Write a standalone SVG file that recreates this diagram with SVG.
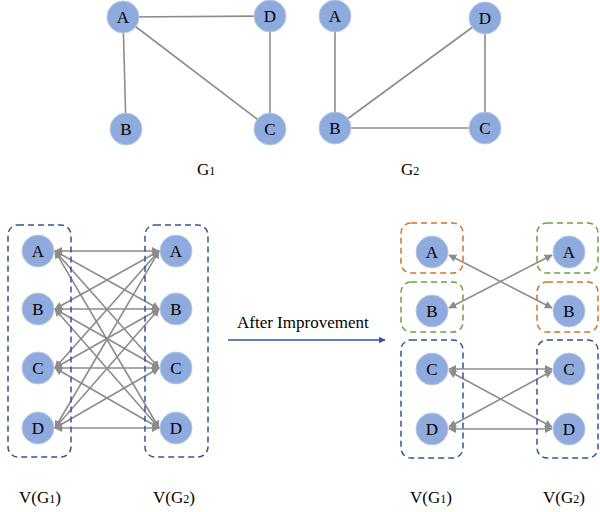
<svg xmlns="http://www.w3.org/2000/svg" width="600" height="512" viewBox="0 0 600 512">
<style>
.n{fill:#8FAADC;stroke:#B9C8E4;stroke-width:1}
.t{font-family:"Liberation Serif","Times New Roman",serif;font-size:17px;fill:#000;text-anchor:middle}
.lbl{font-family:"Liberation Serif","Times New Roman",serif;font-size:17px;fill:#000}
.e{stroke:#8C8C8C;stroke-width:1.6;fill:none}
.a{stroke:#8C8C8C;stroke-width:1.6;fill:none;marker-start:url(#ah);marker-end:url(#ah)}
.bx{fill:none;stroke-width:1.5;stroke-dasharray:6 4}
.blue{stroke:#2F5597}
.orange{stroke:#D2732B}
.green{stroke:#6AA13F}
</style>
<defs>
<marker id="ah" viewBox="0 0 10 10" refX="9" refY="5" markerWidth="5" markerHeight="5" orient="auto-start-reverse" markerUnits="strokeWidth">
<path d="M0,0 L10,5 L0,10 z" fill="#8C8C8C"/>
</marker>
<marker id="bh" viewBox="0 0 10 10" refX="9" refY="5" markerWidth="5" markerHeight="5" orient="auto" markerUnits="strokeWidth">
<path d="M0,0 L10,5 L0,10 z" fill="#2F5597"/>
</marker>
</defs>
<g id="connectors">
<line class="e" x1="123" y1="17" x2="270" y2="16"/>
<line class="e" x1="123" y1="17" x2="126" y2="129"/>
<line class="e" x1="123" y1="17" x2="270" y2="129"/>
<line class="e" x1="270" y1="16" x2="270" y2="129"/>
<line class="e" x1="335" y1="16" x2="335" y2="128"/>
<line class="e" x1="335" y1="128" x2="485" y2="18"/>
<line class="e" x1="335" y1="128" x2="485" y2="128"/>
<line class="e" x1="485" y1="18" x2="485" y2="128"/>
<g id="bipartite">
<line class="a" x1="55" y1="251" x2="159" y2="251"/>
<line class="a" x1="55" y1="251" x2="159" y2="309"/>
<line class="a" x1="55" y1="251" x2="159" y2="368"/>
<line class="a" x1="55" y1="251" x2="159" y2="428"/>
<line class="a" x1="55" y1="309" x2="159" y2="251"/>
<line class="a" x1="55" y1="309" x2="159" y2="309"/>
<line class="a" x1="55" y1="309" x2="159" y2="368"/>
<line class="a" x1="55" y1="309" x2="159" y2="428"/>
<line class="a" x1="55" y1="368" x2="159" y2="251"/>
<line class="a" x1="55" y1="368" x2="159" y2="309"/>
<line class="a" x1="55" y1="368" x2="159" y2="368"/>
<line class="a" x1="55" y1="368" x2="159" y2="428"/>
<line class="a" x1="55" y1="428" x2="159" y2="251"/>
<line class="a" x1="55" y1="428" x2="159" y2="309"/>
<line class="a" x1="55" y1="428" x2="159" y2="368"/>
<line class="a" x1="55" y1="428" x2="159" y2="428"/>
</g>
<g id="improved">
<line class="a" x1="449" y1="255" x2="552" y2="308"/>
<line class="a" x1="449" y1="308" x2="552" y2="255"/>
<line class="a" x1="449" y1="369" x2="552" y2="369"/>
<line class="a" x1="449" y1="429" x2="552" y2="429"/>
<line class="a" x1="449" y1="371" x2="552" y2="427"/>
<line class="a" x1="449" y1="427" x2="552" y2="371"/>
</g>
<line id="improve-arrow" x1="228" y1="340" x2="385" y2="340" stroke="#2F5597" stroke-width="1.3" marker-end="url(#bh)"/>
</g>
<g id="G1">
<g id="g1-A"><circle class="n" cx="123" cy="17" r="16"/><text class="t" x="123" y="23">A</text></g>
<g id="g1-D"><circle class="n" cx="270" cy="16" r="16"/><text class="t" x="270" y="22">D</text></g>
<g id="g1-B"><circle class="n" cx="126" cy="129" r="16"/><text class="t" x="126" y="135">B</text></g>
<g id="g1-C"><circle class="n" cx="270" cy="129" r="16"/><text class="t" x="270" y="135">C</text></g>
<text class="lbl" x="197" y="175">G<tspan font-size="12">1</tspan></text>
</g>
<g id="G2">
<g id="g2-A"><circle class="n" cx="335" cy="16" r="16"/><text class="t" x="335" y="22">A</text></g>
<g id="g2-D"><circle class="n" cx="485" cy="18" r="16"/><text class="t" x="485" y="24">D</text></g>
<g id="g2-B"><circle class="n" cx="335" cy="128" r="16"/><text class="t" x="335" y="134">B</text></g>
<g id="g2-C"><circle class="n" cx="485" cy="128" r="16"/><text class="t" x="485" y="134">C</text></g>
<text class="lbl" x="401" y="175">G<tspan font-size="12">2</tspan></text>
</g>
<g id="before">
<rect class="bx blue" x="8" y="225" width="63" height="232" rx="10"/>
<rect class="bx blue" x="145" y="225" width="63" height="232" rx="10"/>
<g id="b-L-A"><circle class="n" cx="38" cy="251" r="16"/><text class="t" x="38" y="257">A</text></g>
<g id="b-L-B"><circle class="n" cx="38" cy="309" r="16"/><text class="t" x="38" y="315">B</text></g>
<g id="b-L-C"><circle class="n" cx="38" cy="368" r="16"/><text class="t" x="38" y="374">C</text></g>
<g id="b-L-D"><circle class="n" cx="38" cy="428" r="16"/><text class="t" x="38" y="434">D</text></g>
<g id="b-R-A"><circle class="n" cx="176" cy="251" r="16"/><text class="t" x="176" y="257">A</text></g>
<g id="b-R-B"><circle class="n" cx="176" cy="309" r="16"/><text class="t" x="176" y="315">B</text></g>
<g id="b-R-C"><circle class="n" cx="176" cy="368" r="16"/><text class="t" x="176" y="374">C</text></g>
<g id="b-R-D"><circle class="n" cx="176" cy="428" r="16"/><text class="t" x="176" y="434">D</text></g>
<text class="lbl" x="19" y="503">V(G<tspan font-size="12">1</tspan>)</text>
<text class="lbl" x="153" y="503">V(G<tspan font-size="12">2</tspan>)</text>
</g>
<text class="lbl" x="237" y="328" font-size="16">After Improvement</text>
<g id="after">
<rect class="bx orange" x="401" y="223" width="62" height="50" rx="10"/>
<rect class="bx green" x="401" y="282" width="62" height="50" rx="10"/>
<rect class="bx blue" x="401" y="340" width="62" height="118" rx="10"/>
<rect class="bx green" x="537" y="223" width="61" height="50" rx="10"/>
<rect class="bx orange" x="537" y="282" width="61" height="50" rx="10"/>
<rect class="bx blue" x="537" y="340" width="61" height="118" rx="10"/>
<g id="a-L-A"><circle class="n" cx="432" cy="252" r="16"/><text class="t" x="432" y="258">A</text></g>
<g id="a-L-B"><circle class="n" cx="432" cy="311" r="16"/><text class="t" x="432" y="317">B</text></g>
<g id="a-L-C"><circle class="n" cx="432" cy="369" r="16"/><text class="t" x="432" y="375">C</text></g>
<g id="a-L-D"><circle class="n" cx="432" cy="429" r="16"/><text class="t" x="432" y="435">D</text></g>
<g id="a-R-A"><circle class="n" cx="569" cy="252" r="16"/><text class="t" x="569" y="258">A</text></g>
<g id="a-R-B"><circle class="n" cx="569" cy="311" r="16"/><text class="t" x="569" y="317">B</text></g>
<g id="a-R-C"><circle class="n" cx="569" cy="369" r="16"/><text class="t" x="569" y="375">C</text></g>
<g id="a-R-D"><circle class="n" cx="569" cy="429" r="16"/><text class="t" x="569" y="435">D</text></g>
<text class="lbl" x="410" y="503">V(G<tspan font-size="12">1</tspan>)</text>
<text class="lbl" x="543" y="503">V(G<tspan font-size="12">2</tspan>)</text>
</g>
</svg>
